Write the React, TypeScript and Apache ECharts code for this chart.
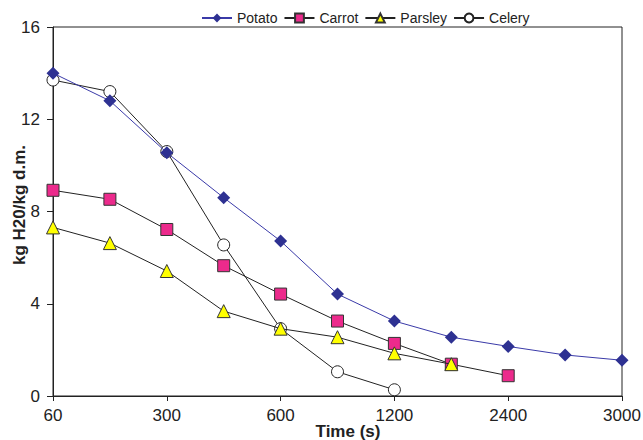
import React, { useEffect, useRef } from "react";
import * as echarts from "echarts";

const categories = ["60", "180", "300", "450", "600", "900", "1200", "1800", "2400", "2700", "3000"];
const potato = [14.0, 12.8, 10.55, 8.6, 6.72, 4.42, 3.25, 2.55, 2.15, 1.78, 1.55];
const carrot = [8.92, 8.53, 7.22, 5.65, 4.42, 3.25, 2.28, 1.38, 0.88];
const parsley = [7.31, 6.63, 5.42, 3.68, 2.92, 2.55, 1.85, 1.38];
const celery = [13.7, 13.2, 10.6, 6.55, 2.92, 1.05, 0.27];
const yTicks = [0, 4, 8, 12, 16];

const FONT = "'Liberation Sans', Arial, sans-serif";

export default function App() {
  const ref = useRef<HTMLDivElement>(null);
  useEffect(() => {
    if (!ref.current) return;
    const chart = echarts.init(ref.current, null, { renderer: "svg" });
    chart.setOption({
      animation: false,
      textStyle: { fontFamily: FONT },
      legend: {
        top: 6,
        left: 196,
        itemWidth: 30,
        itemHeight: 11,
        itemGap: 6,
        textStyle: { fontFamily: FONT, fontSize: 14, color: "#222" },
        data: ["Potato", "Carrot", "Parsley", "Celery"],
      },
      grid: {
        left: 53,
        right: 21,
        top: 27,
        bottom: 44,
        containLabel: false,
        outerBoundsMode: "none",
        show: true,
        borderColor: "#222",
        borderWidth: 1,
        backgroundColor: "transparent",
      },
      xAxis: {
        type: "category",
        data: categories,
        boundaryGap: false,
        name: "Time (s)",
        nameLocation: "middle",
        nameGap: 27,
        nameMoveOverlap: false,
        nameTextStyle: { fontFamily: FONT, fontSize: 17, fontWeight: "bold", color: "#222", padding: [0, 0, 0, 21] },
        axisLine: { lineStyle: { color: "#222", width: 1 } },
        axisTick: { show: true, interval: 1, length: 5, inside: false, lineStyle: { color: "#222" } },
        axisLabel: { interval: 1, fontSize: 17, color: "#222", margin: 11, fontFamily: FONT },
        splitLine: { show: false },
      },
      yAxis: {
        type: "value",
        min: 0,
        max: 16,
        interval: 4,
        name: "kg H20/kg d.m.",
        nameLocation: "middle",
        nameGap: 25,
        nameRotate: 90,
        nameMoveOverlap: false,
        nameTextStyle: { fontFamily: FONT, fontSize: 17, fontWeight: "bold", color: "#222", padding: [0, 0, 0, 13] },
        axisLine: { show: true, lineStyle: { color: "#222", width: 1 } },
        axisTick: { show: true, length: 6, lineStyle: { color: "#222" } },
        axisLabel: {
          fontSize: 17,
          color: "#222",
          margin: 13,
          fontFamily: FONT,
          formatter: (v: number) => (yTicks.includes(v) ? String(v) : ""),
        },
        splitLine: { show: false },
      },
      series: [
        {
          name: "Potato",
          type: "line",
          data: potato,
          symbol: "diamond",
          symbolSize: 13,
          lineStyle: { color: "#3a3aa8", width: 1 },
          itemStyle: { color: "#2e3192", borderColor: "#2e3192", borderWidth: 0 },
          z: 5,
        },
        {
          name: "Carrot",
          type: "line",
          data: carrot,
          symbol: "rect",
          symbolSize: 12,
          lineStyle: { color: "#222", width: 1 },
          itemStyle: { color: "#ec2a8c", borderColor: "#333", borderWidth: 1 },
          z: 4,
        },
        {
          name: "Parsley",
          type: "line",
          data: parsley,
          symbol: "triangle",
          symbolSize: 13,
          lineStyle: { color: "#222", width: 1 },
          itemStyle: { color: "#ffff00", borderColor: "#333", borderWidth: 1 },
          z: 6,
        },
        {
          name: "Celery",
          type: "line",
          data: celery,
          symbol: "circle",
          symbolSize: 12,
          lineStyle: { color: "#222", width: 1 },
          itemStyle: { color: "#ffffff", borderColor: "#222", borderWidth: 1 },
          z: 3,
        },
      ],
    });
    return () => chart.dispose();
  }, []);
  return <div ref={ref} style={{ width: 643, height: 440, position: "absolute", left: 0, top: 0, background: "#fff" }} />;
}
